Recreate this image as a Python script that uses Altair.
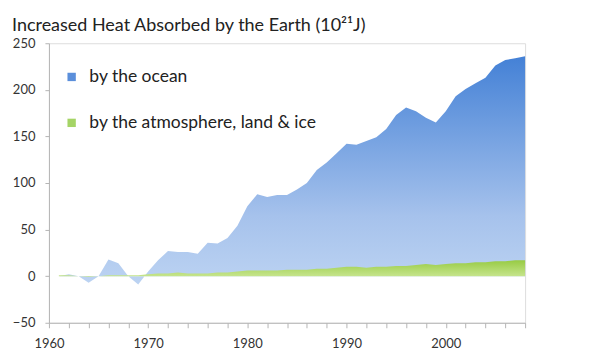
import altair as alt
import pandas as pd

years = list(range(1961, 2009))
ocean = [0, 2, 0, -7, 0, 18, 14, 0, -9, 5,
         17, 27, 26, 26, 24, 36, 35, 41, 54, 75,
         88, 85, 87, 87, 93, 100, 114, 122, 132, 142,
         141, 145, 149, 158, 173, 181, 177, 170, 165, 177,
         193, 201, 207, 213, 226, 232, 234, 236]
atmosphere = [1, 1, 0, -1, 0, 1, 1, 1, 1, 2,
              3, 3, 4, 3, 3, 3, 4, 4, 5, 6,
              6, 6, 6, 7, 7, 7, 8, 8, 9, 10,
              10, 9, 10, 10, 11, 11, 12, 13, 12, 13,
              14, 14, 15, 15, 16, 16, 17, 17]
series_names = ["by the ocean", "by the atmosphere, land & ice"]
title_text = "Increased Heat Absorbed by the Earth (10\u00b2\u00b9J)"

df = pd.DataFrame({"year": years, "ocean": ocean, "atm": atmosphere})
long_df = pd.DataFrame({
    "year": years * 2,
    "value": ocean + atmosphere,
    "series": [series_names[0]] * len(years) + [series_names[1]] * len(years),
})

FONT = "Lato"
AXIS_COLOR = "#b5b5b5"

x_enc = alt.X("year:Q",
              scale=alt.Scale(domain=[1960, 2008], nice=False, zero=False),
              axis=alt.Axis(values=list(range(1960, 2009, 2)),
                            labelExpr="datum.value % 10 == 0 ? datum.label : ''",
                            format="d", title=None, grid=False,
                            labelFlush=False,
                            tickSize=5, labelPadding=10, labelFontSize=13,
                            labelColor="#333333", domainColor=AXIS_COLOR,
                            tickColor=AXIS_COLOR, labelFont=FONT))
y_scale = alt.Scale(domain=[-50, 250], nice=False, zero=False)
y_axis = alt.Axis(values=list(range(-50, 251, 50)), title=None, grid=False,
                  tickSize=4, labelPadding=10, labelFontSize=13,
                  labelColor="#333333", domainColor=AXIS_COLOR,
                  tickColor=AXIS_COLOR, labelFont=FONT)

ocean_grad = alt.Gradient(
    gradient="linear",
    stops=[alt.GradientStop(color="#bcd3f2", offset=0),
           alt.GradientStop(color="#a6c2ec", offset=0.3),
           alt.GradientStop(color="#4481d6", offset=1)],
    x1=1, x2=1, y1=1, y2=0)
atm_grad = alt.Gradient(
    gradient="linear",
    stops=[alt.GradientStop(color="#c8e690", offset=0),
           alt.GradientStop(color="#98cb44", offset=1)],
    x1=1, x2=1, y1=1, y2=0)

base = alt.Chart(df)
ocean_area = base.mark_area(color=ocean_grad, interpolate="linear").encode(
    x=x_enc,
    y=alt.Y("ocean:Q", scale=y_scale, axis=y_axis),
    y2=alt.datum(0),
)
atm_area = base.mark_area(color=atm_grad, interpolate="linear").encode(
    x=x_enc,
    y=alt.Y("atm:Q", scale=y_scale, axis=y_axis),
    y2=alt.datum(0),
)
legend_pts = alt.Chart(long_df).mark_point(filled=True, opacity=0).encode(
    x=x_enc,
    y=alt.Y("value:Q", scale=y_scale, axis=y_axis),
    color=alt.Color("series:N",
                    scale=alt.Scale(domain=series_names,
                                    range=["#5b8fdb", "#a5d466"]),
                    legend=alt.Legend(title=None, orient="none",
                                      legendX=14, legendY=25,
                                      symbolType="square", symbolSize=70,
                                      symbolOpacity=1, symbolStrokeWidth=0,
                                      labelFontSize=17.5, labelFont=FONT,
                                      labelColor="#222222", labelOffset=9,
                                      labelLimit=0,
                                      rowPadding=27, padding=0)),
)

chart = alt.layer(ocean_area, atm_area, legend_pts).properties(
    width=477, height=280,
    autosize="none",
    padding={"left": 41, "top": 35, "right": 62, "bottom": 40},
    title=alt.TitleParams(title_text, anchor="start", frame="group",
                          dx=-37, offset=2, fontSize=18, font=FONT,
                          fontWeight="normal", color="#222222"),
).configure_view(stroke=AXIS_COLOR, strokeWidth=1).configure(background="white")

chart.save("out.html", embed_options={"renderer": "svg", "actions": False})
